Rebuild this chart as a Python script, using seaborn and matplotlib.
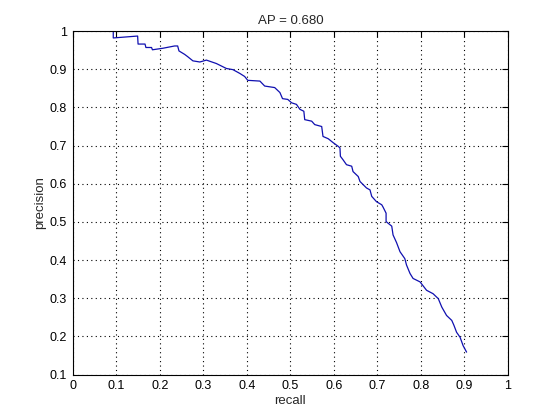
import numpy as np
import pandas as pd
import matplotlib
matplotlib.use('Agg')
import matplotlib.pyplot as plt
import seaborn as sns

recall = [0.093, 0.093, 0.149, 0.150, 0.166, 0.168, 0.181, 0.183, 0.207, 0.234,
          0.241, 0.244, 0.257, 0.264, 0.276, 0.292, 0.307, 0.330, 0.353, 0.368,
          0.384, 0.395, 0.402, 0.430, 0.441, 0.464, 0.476, 0.482, 0.494, 0.503,
          0.514, 0.522, 0.531, 0.533, 0.549, 0.556, 0.572, 0.575, 0.587, 0.598,
          0.610, 0.614, 0.615, 0.621, 0.629, 0.641, 0.644, 0.656, 0.660, 0.675,
          0.683, 0.687, 0.698, 0.710, 0.713, 0.720, 0.720, 0.733, 0.736, 0.744,
          0.752, 0.763, 0.767, 0.775, 0.782, 0.798, 0.813, 0.828, 0.840, 0.848,
          0.859, 0.871, 0.876, 0.882, 0.890, 0.897, 0.905]
precision = [0.998, 0.982, 0.987, 0.966, 0.966, 0.957, 0.957, 0.951, 0.955, 0.961,
             0.961, 0.948, 0.939, 0.933, 0.922, 0.919, 0.924, 0.915, 0.902, 0.899,
             0.889, 0.881, 0.871, 0.869, 0.856, 0.852, 0.839, 0.823, 0.821, 0.812,
             0.808, 0.795, 0.790, 0.768, 0.764, 0.755, 0.750, 0.724, 0.718, 0.708,
             0.698, 0.694, 0.672, 0.663, 0.650, 0.646, 0.632, 0.619, 0.606, 0.589,
             0.584, 0.567, 0.553, 0.545, 0.539, 0.523, 0.501, 0.489, 0.466, 0.446,
             0.422, 0.404, 0.387, 0.365, 0.352, 0.343, 0.321, 0.312, 0.299, 0.277,
             0.255, 0.242, 0.229, 0.211, 0.198, 0.176, 0.159]
ap = 0.680

sns.set_style('white')
plt.rcParams['font.family'] = ['Liberation Sans', 'DejaVu Sans']

df = pd.DataFrame({'recall': recall, 'precision': precision})

fig = plt.figure(figsize=(5.6, 4.2), dpi=100)
ax = fig.add_axes([0.13, 0.108, 0.777, 0.818])
sns.lineplot(data=df, x='recall', y='precision', sort=False, estimator=None,
             color='#1010b0', linewidth=0.9, ax=ax)

ax.set_xlim(0, 1)
ax.set_ylim(0.1, 1)
ax.set_xticks(np.arange(0, 1.01, 0.1))
ax.set_yticks(np.arange(0.1, 1.01, 0.1))
ax.set_xticklabels(['0', '0.1', '0.2', '0.3', '0.4', '0.5', '0.6', '0.7', '0.8', '0.9', '1'])
ax.set_yticklabels(['0.1', '0.2', '0.3', '0.4', '0.5', '0.6', '0.7', '0.8', '0.9', '1'])
ax.grid(True, color='black', linestyle=(0, (1, 3)), linewidth=0.8)
ax.tick_params(direction='in', length=4, width=0.8, top=True, right=True,
               labelsize=9, colors='black', pad=4)
for s in ax.spines.values():
    s.set_color('black')
    s.set_linewidth(0.8)
ax.set_xlabel('recall', fontsize=9.5, labelpad=2)
ax.set_ylabel('precision', fontsize=9.5, labelpad=3)
ax.set_title('AP = %.3f' % ap, fontsize=9.5, pad=5)

fig.savefig('out.png', dpi=100, facecolor='white')
